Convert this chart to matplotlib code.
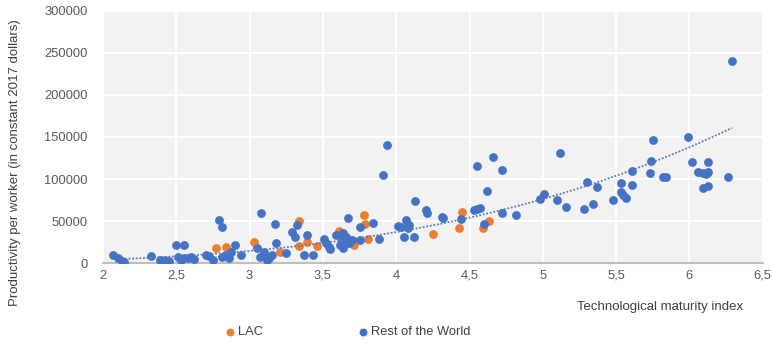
import matplotlib
matplotlib.use("Agg")
import matplotlib.pyplot as plt
import numpy as np

plt.rcParams['font.family'] = ['Liberation Sans', 'DejaVu Sans']

# LAC series
lac_x = [2.77, 2.84, 3.03, 3.21, 3.34, 3.34, 3.39, 3.46, 3.61, 3.71, 3.78, 3.79, 3.81,
         4.25, 4.43, 4.45, 4.59, 4.63]
lac_y = [18000, 19000, 25000, 13000, 50000, 20000, 25000, 20000, 38000, 21000, 57000, 46000, 29000,
         35000, 42000, 61000, 42000, 50000]

# Rest of the World series
row_x = [2.07, 2.10, 2.13, 2.14, 2.33, 2.39, 2.42, 2.45, 2.50, 2.55, 2.51, 2.53, 2.55, 2.58,
         2.62, 2.60, 2.70, 2.72, 2.75, 2.79, 2.81, 2.81, 2.84, 2.87, 2.86, 2.90, 2.94, 3.05,
         3.08, 3.07, 3.10, 3.13, 3.12, 3.15, 3.17, 3.18, 3.25, 3.29, 3.31, 3.32, 3.37, 3.39,
         3.43, 3.51, 3.52, 3.54, 3.55, 3.59, 3.64, 3.66, 3.63, 3.62, 3.64, 3.68, 3.67, 3.70,
         3.75, 3.75, 3.84, 3.88, 3.91, 3.94, 4.01, 4.03, 4.05, 4.07, 4.08, 4.09, 4.12, 4.13,
         4.20, 4.21, 4.31, 4.32, 4.44, 4.53, 4.55, 4.57, 4.55, 4.60, 4.62, 4.66, 4.72, 4.72,
         4.82, 4.98, 5.01, 5.10, 5.12, 5.16, 5.28, 5.30, 5.34, 5.37, 5.48, 5.53, 5.53, 5.55,
         5.57, 5.61, 5.61, 5.73, 5.74, 5.75, 5.82, 5.84, 5.99, 6.02, 6.06, 6.09, 6.11, 6.13,
         6.13, 6.09, 6.13, 6.26, 6.29]
row_y = [9500, 6000, 2400, 1200, 8300, 3600, 3600, 2400, 21000, 21000, 7000, 4000, 6000, 6000,
         5000, 7000, 9500, 8000, 3600, 51000, 43000, 7000, 9500, 13000, 6000, 21000, 9500, 18000,
         59000, 7000, 13000, 6000, 3600, 9500, 47000, 24000, 12000, 37000, 31000, 45000, 9500, 33000,
         10000, 28000, 24000, 19000, 17000, 33000, 36000, 31000, 27000, 21000, 18000, 24000, 54000, 27000,
         27000, 43000, 48000, 28000, 105000, 141000, 44000, 43000, 31000, 51000, 42000, 45000, 31000, 74000,
         63000, 60000, 55000, 53000, 52000, 63000, 64000, 65000, 115000, 46000, 86000, 126000, 59000, 111000,
         57000, 76000, 82000, 75000, 131000, 67000, 64000, 96000, 70000, 90000, 75000, 85000, 95000, 81000,
         77000, 93000, 110000, 107000, 121000, 147000, 102000, 102000, 150000, 120000, 108000, 107000, 106000, 108000,
         120000, 89000, 92000, 102000, 240000]

x_ticks = [2, 2.5, 3, 3.5, 4, 4.5, 5, 5.5, 6, 6.5]
x_tick_labels = ['2', '2,5', '3', '3,5', '4', '4,5', '5', '5,5', '6', '6,5']
y_ticks = [0, 50000, 100000, 150000, 200000, 250000, 300000]

fig = plt.figure(figsize=(7.72, 3.43), dpi=100)
ax = fig.add_axes([0.1334, 0.2332, 0.8546, 0.7348])
ax.set_facecolor('#f2f2f2')

blue = '#4472c4'
orange = '#ed7d31'

ax.scatter(lac_x, lac_y, s=40, color=orange, zorder=3, label='LAC', linewidths=0)
ax.scatter(row_x, row_y, s=40, color=blue, zorder=3, label='Rest of the World', linewidths=0)

# power trendline fitted to all points
all_x = np.array(lac_x + row_x)
all_y = np.array(lac_y + row_y)
b, a = np.polyfit(np.log(all_x), np.log(all_y), 1)
tx = np.linspace(2.15, max(all_x), 200)
ax.plot(tx, np.exp(a) * tx ** b, linestyle=(0, (1, 1)), color='#5a78b8', lw=1.3, zorder=4)

ax.set_xlim(2, 6.5)
ax.set_ylim(0, 300000)
ax.set_xticks(x_ticks)
ax.set_xticklabels(x_tick_labels)
ax.set_yticks(y_ticks)
ax.set_yticklabels([str(v) for v in y_ticks])
ax.grid(True, color='white', lw=1.5, zorder=0)
ax.set_axisbelow(True)
for s in ['top', 'right', 'left']:
    ax.spines[s].set_visible(False)
ax.spines['bottom'].set_color('#bfbfbf')
ax.spines['bottom'].set_linewidth(1.5)
ax.tick_params(length=0, labelsize=9.3, colors='#595959')
ax.tick_params(axis='y', pad=11)
ax.tick_params(axis='x', pad=5)

fig.text(0.963, 0.105, 'Technological maturity index', ha='right', va='center',
         fontsize=9.5, color='#404040')
fig.text(0.02, 0.525, 'Productivity per worker (in constant 2017 dollars)', rotation=90,
         ha='center', va='center', fontsize=9.5, color='#404040')

leg = fig.legend(handles=ax.collections[:2], loc='center', bbox_to_anchor=(0.4494, 0.032), ncol=2,
                 frameon=False, fontsize=9.3, handletextpad=0.1, columnspacing=7.26,
                 markerscale=0.9, handlelength=1.0)
for t in leg.get_texts():
    t.set_color('#404040')

fig.savefig('out.png', dpi=100)
